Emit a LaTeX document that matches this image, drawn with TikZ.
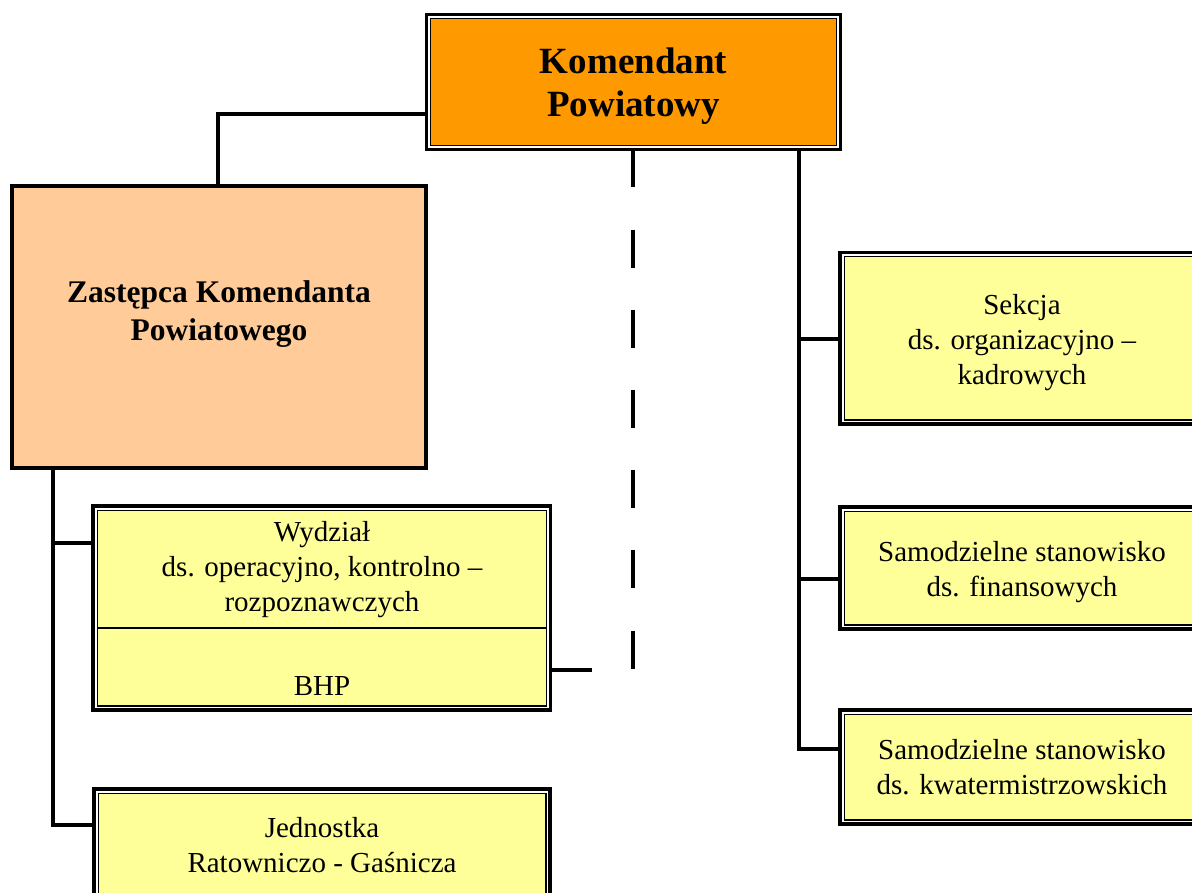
\documentclass[tikz,border=0pt]{standalone}
\usepackage{fontspec}
\setmainfont{Liberation Serif}
\usetikzlibrary{calc}
\definecolor{komc}{HTML}{FF9900}
\definecolor{zasc}{HTML}{FFCC99}
\definecolor{yelc}{HTML}{FFFF99}
\tikzset{
  dbox/.style={draw, line width=3.3pt, fill=white, inner sep=0pt, outer sep=0pt, anchor=north west,
    path picture={\draw[line width=1.4pt, fill=#1]
      ([shift={(4.2pt,-4.2pt)}]path picture bounding box.north west) rectangle
      ([shift={(-4.2pt,4.2pt)}]path picture bounding box.south east);}},
  sbox/.style={draw, line width=4pt, fill=#1, inner sep=0pt, outer sep=0pt, anchor=north west},
  conn/.style={line width=4pt},
  dconn/.style={line width=4pt, dash pattern=on 38pt off 42.17pt},
  reg/.style={font=\fontsize{29}{35}\selectfont, align=center, inner sep=0pt},
  bigb/.style={font=\fontsize{37}{43}\selectfont\bfseries, align=center, inner sep=0pt},
  midb/.style={font=\fontsize{31.5}{37.6}\selectfont\bfseries, align=center, inner sep=0pt},
}
\begin{document}
\begin{tikzpicture}[x=1pt,y=-1pt]
\useasboundingbox (0,0) rectangle (1192,893);
\clip (0,0) rectangle (1192,893);
\fill[white] (0,0) rectangle (1192,893);

% boxes
\node[dbox=komc, minimum width=414pt, minimum height=135pt] (kom) at (426.5,14.5) {};
\node[sbox=zasc, minimum width=414pt, minimum height=281.5pt] (zas) at (12,186) {};
\node[dbox=yelc, minimum width=457.5pt, minimum height=204pt] (wyd) at (93,506) {};
\node[dbox=yelc, minimum width=456pt, minimum height=150pt] (jed) at (94,789) {};
\node[dbox=yelc, minimum width=364pt, minimum height=171.5pt] (sek) at (840,252.5) {};
\node[dbox=yelc, minimum width=364pt, minimum height=122pt] (fin) at (840,507) {};
\node[dbox=yelc, minimum width=364pt, minimum height=114pt] (kwa) at (840,710) {};

% divider inside Wydzial box
\draw[line width=1.6pt] (97,628) -- (546.5,628);

% texts
\node[bigb] (komT) at ($(kom.center)+(0,4)$) {Komendant\\Powiatowy};
\node[midb] (zasT) at ($(zas.center)+(0,-12.5)$) {Zastępca Komendanta\\Powiatowego};
\node[reg] (wydT) at (322,570) {Wydział\\ds. operacyjno, kontrolno –\\rozpoznawczych};
\node[reg] (bhpT) at (322,686) {BHP};
\node[reg] (jedT) at (322,845) {Jednostka\\Ratowniczo - Gaśnicza};
\node[reg] (sekT) at ($(sek.center)+(0,4.3)$) {Sekcja\\ds. organizacyjno –\\kadrowych};
\node[reg] (finT) at ($(fin.center)+(0,3.6)$) {Samodzielne stanowisko\\ds. finansowych};
\node[reg] (kwaT) at ($(kwa.center)+(0,0)$) {Samodzielne stanowisko\\ds. kwatermistrzowskich};

% connectors
\coordinate (kl) at (kom.west |- 0,114);
\draw[conn] (kl) -| (zas.north -| 218,0);
\coordinate (ltop) at (zas.south -| 53,0);
\draw[conn] (ltop) |- (jed.west |- 0,825);
\draw[conn] (53,543) -- (wyd.west |- 0,543);
\coordinate (bhpEnd) at (592,670);
\draw[conn] (wyd.east |- bhpEnd) -- (bhpEnd);
\coordinate (dashEnd) at (633,669);
\draw[dconn] (kom.south -| dashEnd) -- (dashEnd);
\coordinate (rtop) at (kom.south -| 799,0);
\draw[conn] (rtop) |- (kwa.west |- 0,749);
\draw[conn] (799,339) -- (sek.west |- 0,339);
\draw[conn] (799,578.7) -- (fin.west |- 0,578.7);
\end{tikzpicture}
\end{document}
